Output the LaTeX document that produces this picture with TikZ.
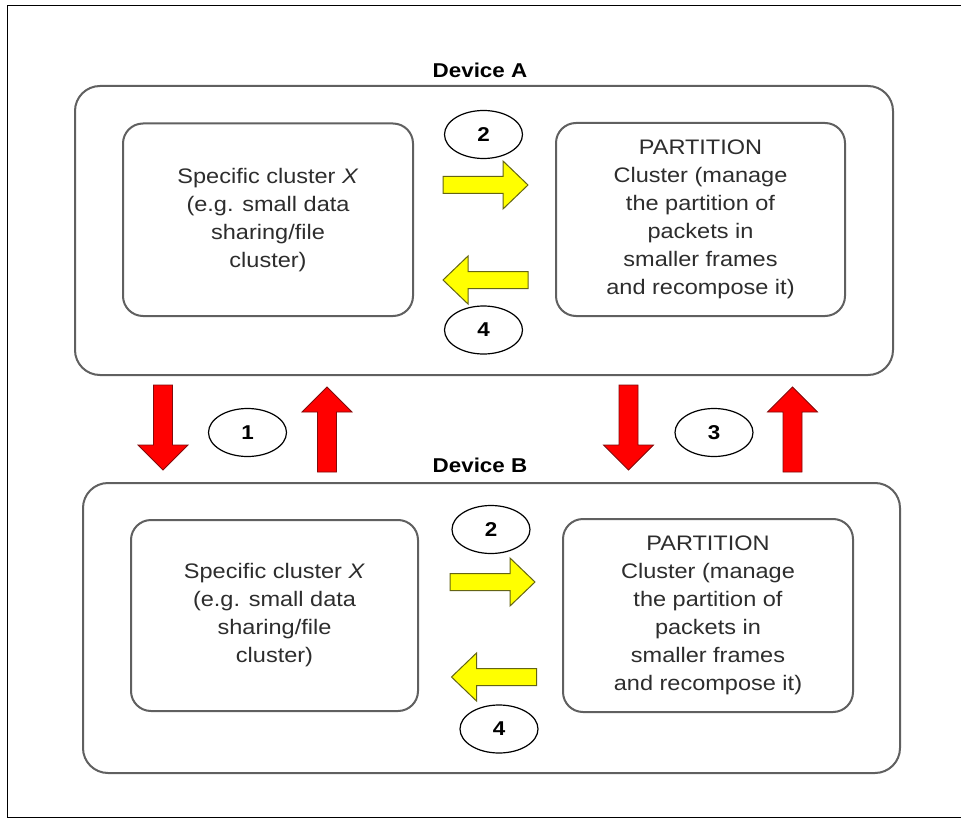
\documentclass[tikz,border=0pt]{standalone}
\usepackage{fontspec}
\setmainfont{Liberation Sans}[FakeStretch=1.12]
\usetikzlibrary{shapes.geometric}
\definecolor{boxgray}{RGB}{96,96,96}
\definecolor{txtgray}{RGB}{45,45,45}
\definecolor{arrowyellow}{RGB}{255,255,0}
\definecolor{yellowedge}{RGB}{100,100,20}
\definecolor{arrowred}{RGB}{255,0,0}
\definecolor{rededge}{RGB}{130,10,10}
\begin{document}
\begin{tikzpicture}[x=1pt,y=-1pt,
  dev/.style={draw=boxgray, line width=2pt, rounded corners=25pt, inner sep=0pt},
  clus/.style={draw=boxgray, line width=2pt, rounded corners=20pt, inner sep=0pt,
    align=center, text=txtgray, font=\fontsize{21}{28}\selectfont},
  num/.style={draw=black, ellipse, line width=1.2pt, inner sep=0pt,
    minimum width=78pt, minimum height=48pt, font=\fontsize{20}{24}\selectfont\bfseries},
  devtitle/.style={font=\fontsize{20}{24}\selectfont\bfseries, inner sep=0pt},
  yellowarrow/.style={draw=yellowedge, fill=arrowyellow, line width=1pt, line join=miter},
  redarrow/.style={draw=rededge, fill=arrowred, line width=0.8pt, line join=miter},
  pics/yarrow/.style={code={\draw[yellowarrow] (0,-8.5) -- (60,-8.5) -- (60,-24) -- (85,0) -- (60,24) -- (60,8.5) -- (0,8.5) -- cycle;}},
  pics/rarrow/.style={code={\draw[redarrow] (-9.5,0) -- (-9.5,60) -- (-25,60) -- (0,85) -- (25,60) -- (9.5,60) -- (9.5,0) -- cycle;}}
]
\useasboundingbox (0,0) rectangle (961,821);
\fill[white] (0,0) rectangle (961,821);
% outer frame
\draw[line width=1.5pt, black] (961,5.5) -- (7.5,5.5) -- (7.5,817.5) -- (961,817.5);

% Device A
\node[devtitle] (titleA) at (480,70) {Device A};
\node[dev, minimum width=818pt, minimum height=289pt] (devA) at (484,230.5) {};
\node[clus, minimum width=290pt, minimum height=192.5pt] (ax) at (268,219.75)
  {Specific cluster \textit{X}\\(e.g. small data\\sharing/file\\cluster)};
\node[clus, minimum width=289pt, minimum height=193pt] (ap) at (700.5,219.5)
  {PARTITION\\Cluster (manage\\the partition of\\packets in\\smaller frames\\and recompose it)};
\node[num] (a2) at (483.5,134.5) {2};
\node[num] (a4) at (483.5,330) {4};
\pic (ayr) at (443,185) {yarrow};
\pic[xscale=-1] (ayl) at (528,280) {yarrow};

% Device B
\node[devtitle] (titleB) at (480,465) {Device B};
\node[dev, minimum width=817pt, minimum height=290pt] (devB) at (491.5,628) {};
\node[clus, minimum width=287pt, minimum height=191pt] (bx) at (274.5,615.5)
  {Specific cluster \textit{X}\\(e.g. small data\\sharing/file\\cluster)};
\node[clus, minimum width=290pt, minimum height=193pt] (bp) at (708,615.5)
  {PARTITION\\Cluster (manage\\the partition of\\packets in\\smaller frames\\and recompose it)};
\node[num] (b2) at (491,529.5) {2};
\node[num] (b4) at (499,729) {4};
\pic (byr) at (450,582) {yarrow};
\pic[xscale=-1] (byl) at (536.5,677) {yarrow};

% between devices
\node[num] (n1) at (247.5,432.5) {1};
\node[num] (n3) at (714,432.5) {3};
\pic (rd1) at (163,385) {rarrow};
\pic[yscale=-1] (ru1) at (327,472) {rarrow};
\pic (rd3) at (628.5,385) {rarrow};
\pic[yscale=-1] (ru3) at (792.5,472) {rarrow};
\end{tikzpicture}
\end{document}
